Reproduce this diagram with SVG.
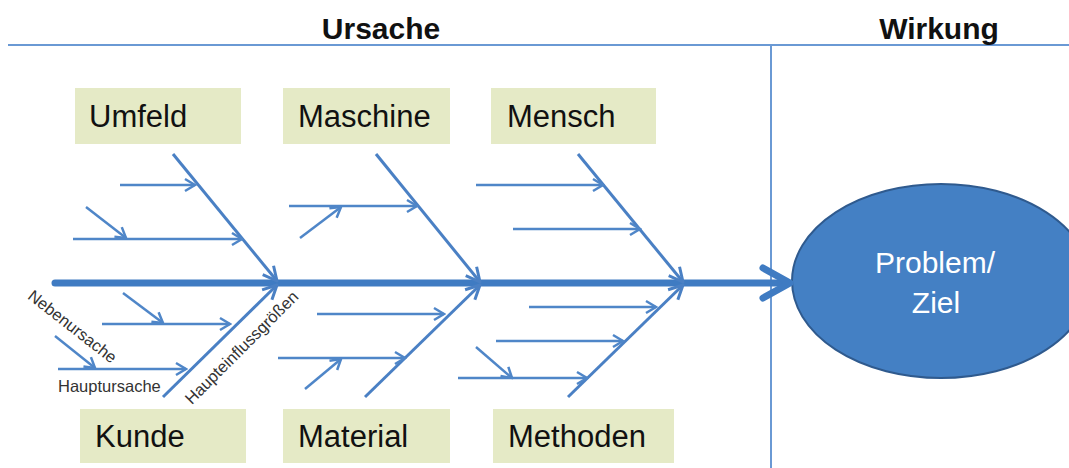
<svg xmlns="http://www.w3.org/2000/svg" width="1069" height="468" viewBox="0 0 1069 468">
  <style>
    .frame { stroke: #6a99d4; stroke-width: 2; fill: none; }
    .head { font-family: "Liberation Sans", Arial, sans-serif; font-weight: bold; font-size: 30px; fill: #111; text-anchor: middle; }
    .box rect { fill: #e5eac6; }
    .box text { font-family: "Liberation Sans", Arial, sans-serif; font-size: 31px; fill: #111; }
    .spine { stroke: #3f7bc2; stroke-width: 7; fill: none; stroke-linecap: round; stroke-linejoin: round; }
    .bone { stroke: #4a80c4; stroke-width: 3; fill: none; marker-end: url(#boneHead); }
    .sub { stroke: #4f86c8; stroke-width: 2.5; fill: none; marker-end: url(#subHead); }
    .note { font-family: "Liberation Sans", Arial, sans-serif; font-size: 16.5px; fill: #333; }
    .goal ellipse { fill: #4480c4; stroke: #2f5a8e; stroke-width: 2; }
    .goal text { font-family: "Liberation Sans", Arial, sans-serif; font-size: 30px; fill: #fff; text-anchor: middle; }
  </style>
  <defs>
    <marker id="boneHead" markerUnits="userSpaceOnUse" viewBox="-16 -9 18 18" markerWidth="18" markerHeight="18" refX="0" refY="0" orient="auto">
      <path d="M-14,-7 L0,0 L-14,7" fill="none" stroke="#4a80c4" stroke-width="3" stroke-linejoin="round"/>
    </marker>
    <marker id="subHead" markerUnits="userSpaceOnUse" viewBox="-12 -8 14 16" markerWidth="14" markerHeight="16" refX="0" refY="0" orient="auto">
      <path d="M-10,-6 L0,0 L-10,6" fill="none" stroke="#4f86c8" stroke-width="2.5"/>
    </marker>
  </defs>

  <rect width="1069" height="468" fill="#fff"/>

  <!-- header rule and divider between cause and effect -->
  <g id="frame">
    <line class="frame" x1="8" y1="45" x2="1069" y2="45"/>
    <line class="frame" x1="771" y1="45" x2="771" y2="468"/>
    <text class="head" x="381" y="39">Ursache</text>
    <text class="head" x="939" y="39">Wirkung</text>
  </g>

  <!-- category boxes -->
  <g id="umfeld" class="box"><rect x="75" y="88" width="166" height="56"/><text x="89" y="127">Umfeld</text></g>
  <g id="maschine" class="box"><rect x="283" y="88" width="167" height="56"/><text x="298" y="127">Maschine</text></g>
  <g id="mensch" class="box"><rect x="491" y="88" width="165" height="56"/><text x="507" y="127">Mensch</text></g>
  <g id="kunde" class="box"><rect x="80" y="409" width="166" height="54"/><text x="95" y="447">Kunde</text></g>
  <g id="material" class="box"><rect x="283" y="409" width="167" height="54"/><text x="298" y="447">Material</text></g>
  <g id="methoden" class="box"><rect x="493" y="409" width="181" height="54"/><text x="508" y="447">Methoden</text></g>

  <!-- effect -->
  <g id="problem" class="goal">
    <ellipse cx="941" cy="281" rx="149" ry="97"/>
    <text x="935" y="273">Problem/</text>
    <text x="936" y="313">Ziel</text>
  </g>

  <!-- fishbone connectors -->
  <g id="connectors">
    <line class="spine" x1="55" y1="283" x2="786" y2="283"/>
    <polyline class="spine" points="763,268 790,283 763,298"/>

    <line class="bone" x1="173" y1="154" x2="277" y2="281"/>
    <line class="bone" x1="163" y1="397" x2="277" y2="285"/>
    <line class="bone" x1="376" y1="154" x2="480" y2="282"/>
    <line class="bone" x1="365" y1="397" x2="480" y2="285"/>
    <line class="bone" x1="578" y1="154" x2="683" y2="282"/>
    <line class="bone" x1="568" y1="397" x2="683" y2="285"/>

    <line class="sub" x1="120" y1="185" x2="195" y2="185"/>
    <line class="sub" x1="73" y1="239" x2="242" y2="239"/>
    <line class="sub" x1="86" y1="207" x2="126" y2="238"/>
    <line class="sub" x1="123" y1="293" x2="163" y2="323"/>
    <line class="sub" x1="102" y1="324" x2="230" y2="324"/>
    <line class="sub" x1="55" y1="336" x2="95" y2="368"/>
    <line class="sub" x1="58" y1="369" x2="186" y2="369"/>

    <line class="sub" x1="289" y1="206" x2="417" y2="206"/>
    <line class="sub" x1="300" y1="238" x2="341" y2="207"/>
    <line class="sub" x1="317" y1="314" x2="444" y2="314"/>
    <line class="sub" x1="278" y1="358" x2="405" y2="358"/>
    <line class="sub" x1="305" y1="389" x2="341" y2="359"/>

    <line class="sub" x1="476" y1="185" x2="603" y2="185"/>
    <line class="sub" x1="513" y1="229" x2="640" y2="229"/>
    <line class="sub" x1="529" y1="307" x2="656" y2="307"/>
    <line class="sub" x1="496" y1="341" x2="623" y2="341"/>
    <line class="sub" x1="458" y1="378" x2="587" y2="378"/>
    <line class="sub" x1="476" y1="347" x2="512" y2="378"/>
  </g>

  <!-- legend labels on the Kunde bone -->
  <g id="legend">
    <text class="note" transform="translate(72,327) rotate(38)" x="0" y="5" text-anchor="middle">Nebenursache</text>
    <text class="note" x="58" y="392">Hauptursache</text>
    <text class="note" transform="translate(242,348) rotate(-45)" x="0" y="5" text-anchor="middle">Haupteinflussgrößen</text>
  </g>
</svg>
